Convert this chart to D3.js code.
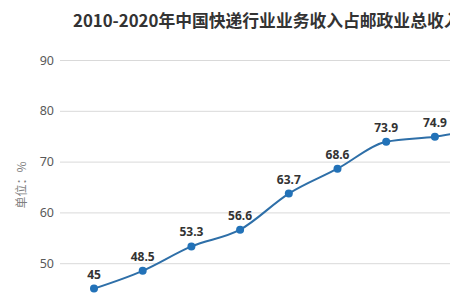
<!DOCTYPE html>
<html>
<head>
<meta charset="utf-8">
<script src="https://cdn.jsdelivr.net/npm/d3@7"></script>
<style>
  body { margin: 0; background: #fff; }
  svg { display: block; font-family: "Noto Sans CJK SC", "Noto Sans", sans-serif; }
</style>
</head>
<body>
<div id="chart"></div>
<script>
// chart values
var years = [2010, 2011, 2012, 2013, 2014, 2015, 2016, 2017, 2018, 2019, 2020];
var shares = [45, 48.5, 53.3, 56.6, 63.7, 68.6, 73.9, 74.9, 76.4, 76.8, 79.7];
var yTicks = [50, 60, 70, 80, 90];
var title = "2010-2020年中国快递行业业务收入占邮政业总收入比重";
var unitLabel = "单位：%";

var width = 450, height = 300;

var svg = d3.select("#chart").append("svg")
    .attr("width", width)
    .attr("height", height);

// scales: plot runs past the right edge (the original is cropped)
var xScale = d3.scalePoint()
    .domain(years)
    .range([94, 581]);

var yScale = d3.scaleLinear()
    .domain([40, 90])
    .range([314, 60]);

// title
svg.append("text")
    .attr("x", 73)
    .attr("y", 27)
    .attr("font-size", "16.8px")
    .attr("font-weight", "bold")
    .attr("fill", "#333")
    .text(title);

// y axis with gridlines
var yAxis = d3.axisLeft(yScale)
    .tickValues(yTicks)
    .tickSize(-(width - 60))
    .tickPadding(6);

var gy = svg.append("g")
    .attr("transform", "translate(60,0)")
    .call(yAxis);
gy.select(".domain").remove();
gy.selectAll(".tick line").attr("stroke", "#d9d9d9").attr("stroke-width", 1);
gy.selectAll(".tick text")
    .attr("fill", "#595959")
    .attr("font-size", "12.5px")
    .attr("font-family", "\"Noto Sans\", \"Noto Sans CJK SC\", sans-serif");

// unit label
svg.append("text")
    .attr("transform", "translate(26,185) rotate(-90)")
    .attr("text-anchor", "middle")
    .attr("fill", "#7f7f7f")
    .attr("font-size", "12px")
    .text(unitLabel);

// line
var line = d3.line()
    .x(function(d, i) { return xScale(years[i]); })
    .y(function(d) { return yScale(d); })
    .curve(d3.curveMonotoneX);

svg.append("path")
    .datum(shares)
    .attr("fill", "none")
    .attr("stroke", "#2e6fa8")
    .attr("stroke-width", 2)
    .attr("d", line);

// markers
svg.selectAll("circle.pt")
    .data(shares)
    .enter().append("circle")
    .attr("class", "pt")
    .attr("cx", function(d, i) { return xScale(years[i]); })
    .attr("cy", function(d) { return yScale(d); })
    .attr("r", 4)
    .attr("fill", "#2272b8");

// value labels
svg.selectAll("text.val")
    .data(shares)
    .enter().append("text")
    .attr("class", "val")
    .attr("x", function(d, i) { return xScale(years[i]); })
    .attr("y", function(d) { return yScale(d) - 10; })
    .attr("text-anchor", "middle")
    .attr("font-size", "12px")
    .attr("font-weight", "bold")
    .attr("fill", "#333")
    .attr("font-family", "\"Noto Sans\", sans-serif")
    .text(function(d) { return d; });
</script>
</body>
</html>
